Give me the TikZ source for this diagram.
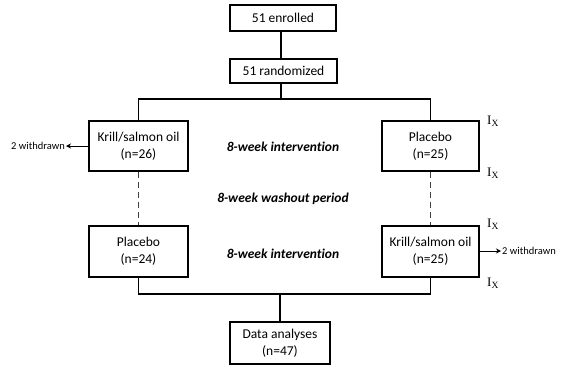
\documentclass[tikz,border=0pt]{standalone}
\usepackage{fontspec}
\setmainfont[Ligatures=NoCommon]{Carlito}
\newfontfamily\tnr{Liberation Serif}
\usetikzlibrary{arrows.meta}
\begin{document}
\begin{tikzpicture}[x=1pt,y=-1pt,
  box/.style={draw=black,line width=1.3pt,rectangle,inner sep=0pt,align=center,font=\fontsize{13.5}{17}\selectfont},
  conn/.style={draw=black,line width=1.1pt},
  dash line/.style={draw=black!75,line width=0.8pt,dash pattern=on 6pt off 4pt},
  phase/.style={font=\fontsize{13.5}{16}\selectfont\bfseries\itshape},
  wd/.style={font=\fontsize{10.5}{12}\selectfont},
  ix/.style={font=\tnr\fontsize{13}{15}\selectfont,inner sep=0pt,anchor=west},
  arr/.style={draw=black,line width=0.8pt,-{Stealth[length=5pt,width=5pt]}}]
\useasboundingbox (0,0) rectangle (570,368);
\node[box,minimum width=106pt,minimum height=26pt] (enr) at (283,18) {51 enrolled};
\node[box,minimum width=107pt,minimum height=24pt] (rnd) at (283.5,71) {51 randomized};
\node[box,minimum width=99pt,minimum height=50pt] (l1) at (138.5,146) {Krill/salmon oil\\(n=26)};
\node[box,minimum width=97pt,minimum height=50pt] (r1) at (430.5,146) {Placebo\\(n=25)};
\node[box,minimum width=99pt,minimum height=51pt] (l2) at (138.5,251.5) {Placebo\\(n=24)};
\node[box,minimum width=97pt,minimum height=51pt] (r2) at (430.5,251.5) {Krill/salmon oil\\(n=25)};
\node[box,minimum width=100pt,minimum height=42pt] (da) at (280,343) {Data analyses\\(n=47)};
\node[phase] (p1) at (283,147) {8-week intervention};
\node[phase] (p2) at (283,199) {8-week washout period};
\node[phase] (p3) at (283,254) {8-week intervention};
\coordinate (top) at (281,99);
\coordinate (bot) at (280,294);
\coordinate (e1) at (281,31);
\coordinate (e2) at (281,59);
\coordinate (e3) at (281,83);
\draw[conn] (e1) -- (e2);
\draw[conn] (e3) -- (top);
\draw[conn] (l1.north) |- (top) -| (r1.north);
\draw[dash line] (l1.south) -- (l2.north);
\draw[dash line] (r1.south) -- (r2.north);
\draw[conn] (l2.south) |- (bot) -| (r2.south);
\draw[conn] (bot) -- (da.north);
\coordinate (wl) at (66,146);
\coordinate (wr) at (501,251);
\draw[arr] (l1.west) -- (wl);
\draw[arr] (r2.east |- wr) -- (wr);
\node[wd,anchor=east,inner sep=1pt] (w1) at (wl) {2 withdrawn};
\node[wd,anchor=west,inner sep=1pt] (w2) at (wr) {2 withdrawn};
\node[ix] (i1) at (487,121) {I\raisebox{-0.35ex}{\fontsize{9.5}{10}\selectfont X}};
\node[ix] (i2) at (487,173) {I\raisebox{-0.35ex}{\fontsize{9.5}{10}\selectfont X}};
\node[ix] (i3) at (487,224) {I\raisebox{-0.35ex}{\fontsize{9.5}{10}\selectfont X}};
\node[ix] (i4) at (487,283) {I\raisebox{-0.35ex}{\fontsize{9.5}{10}\selectfont X}};
\end{tikzpicture}
\end{document}
